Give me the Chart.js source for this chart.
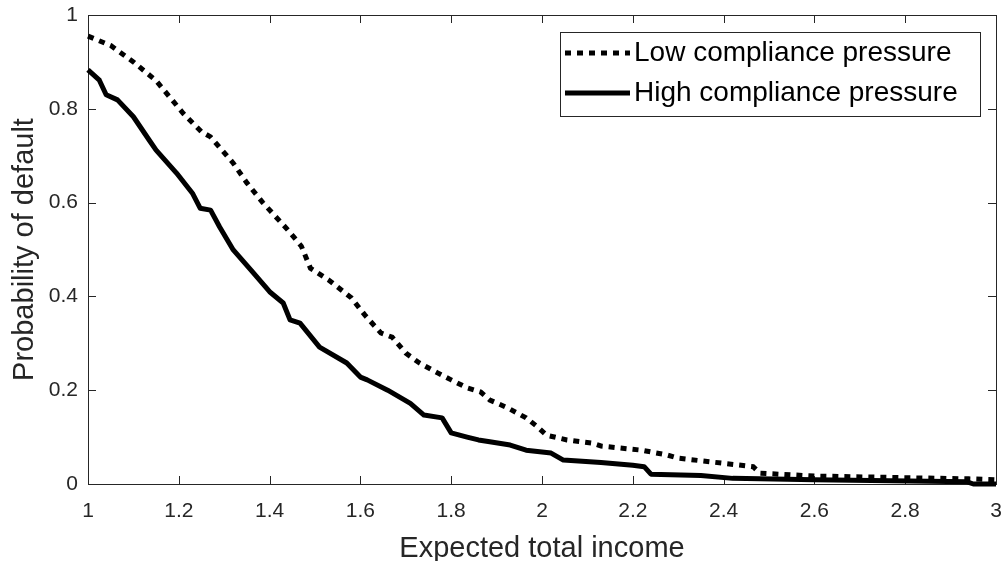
<!DOCTYPE html>
<html>
<head>
<meta charset="utf-8">
<script src="https://cdn.jsdelivr.net/npm/chart.js@4.4.1/dist/chart.umd.min.js"></script>
<style>
  html, body { margin: 0; padding: 0; background: #fff; }
  #wrap { width: 1007px; height: 561px; }
</style>
</head>
<body>
<div id="wrap"><canvas id="pdChart" width="1007" height="561"></canvas></div>
<script>
// probability of default vs expected total income
const lowX = [1.00, 1.05, 1.10, 1.15, 1.21, 1.25, 1.27, 1.32, 1.35, 1.385, 1.44, 1.47, 1.49, 1.53, 1.58, 1.61, 1.645, 1.67, 1.70, 1.73, 1.77, 1.80, 1.835, 1.865, 1.885, 1.925, 1.965, 1.99, 2.01, 2.055, 2.11, 2.13, 2.22, 2.275, 2.30, 2.465, 2.48, 2.60, 2.94, 3.00];
const lowY = [0.955, 0.935, 0.90, 0.86, 0.79, 0.751, 0.74, 0.684, 0.642, 0.60, 0.542, 0.507, 0.46, 0.435, 0.397, 0.36, 0.322, 0.313, 0.279, 0.258, 0.237, 0.222, 0.205, 0.196, 0.179, 0.162, 0.141, 0.122, 0.104, 0.094, 0.087, 0.081, 0.072, 0.062, 0.055, 0.037, 0.023, 0.017, 0.011, 0.009];

const highX = [1.00, 1.025, 1.04, 1.065, 1.10, 1.135, 1.15, 1.195, 1.23, 1.247, 1.27, 1.29, 1.32, 1.36, 1.40, 1.43, 1.445, 1.467, 1.51, 1.57, 1.60, 1.615, 1.66, 1.71, 1.74, 1.78, 1.80, 1.835, 1.86, 1.885, 1.93, 1.965, 2.02, 2.047, 2.13, 2.20, 2.225, 2.24, 2.35, 2.42, 2.60, 2.935, 2.95, 3.00];
const highY = [0.883, 0.861, 0.83, 0.819, 0.783, 0.733, 0.712, 0.663, 0.62, 0.588, 0.584, 0.548, 0.499, 0.455, 0.41, 0.386, 0.35, 0.343, 0.292, 0.258, 0.228, 0.222, 0.20, 0.172, 0.147, 0.141, 0.109, 0.10, 0.094, 0.09, 0.083, 0.072, 0.066, 0.051, 0.046, 0.040, 0.037, 0.021, 0.018, 0.012, 0.009, 0.005, 0.0, 0.0];

const xTicks = [1, 1.2, 1.4, 1.6, 1.8, 2, 2.2, 2.4, 2.6, 2.8, 3];
const yTicks = [0, 0.2, 0.4, 0.6, 0.8, 1];

const seriesNames = ['Low compliance pressure', 'High compliance pressure'];

const axisColor = '#262626';
const font = 'Arial, "Liberation Sans", Helvetica, sans-serif';

function toPoints(xs, ys) {
  return xs.map((x, i) => ({ x: x, y: ys[i] }));
}

// box around the axes with inward tick marks (matlab style)
const axesBox = {
  id: 'axesBox',
  beforeDatasetsDraw(chart) {
    const { ctx, chartArea: a, scales } = chart;
    const len = 8;
    ctx.save();
    ctx.strokeStyle = axisColor;
    ctx.lineWidth = 1;
    ctx.strokeRect(a.left + 0.5, a.top + 0.5, a.right - a.left, a.bottom - a.top);
    ctx.beginPath();
    xTicks.forEach(v => {
      const px = Math.round(scales.x.getPixelForValue(v)) + 0.5;
      ctx.moveTo(px, a.bottom); ctx.lineTo(px, a.bottom - len);
      ctx.moveTo(px, a.top); ctx.lineTo(px, a.top + len);
    });
    yTicks.forEach(v => {
      const py = Math.round(scales.y.getPixelForValue(v)) + 0.5;
      ctx.moveTo(a.left, py); ctx.lineTo(a.left + len, py);
      ctx.moveTo(a.right, py); ctx.lineTo(a.right - len, py);
    });
    ctx.stroke();
    ctx.restore();
  },
  afterDatasetsDraw(chart) {
    // legend box in the upper right corner
    const { ctx } = chart;
    const bx = 560, by = 32, bw = 420, bh = 84;
    ctx.save();
    ctx.fillStyle = '#fff';
    ctx.fillRect(bx, by, bw, bh);
    ctx.strokeStyle = axisColor;
    ctx.lineWidth = 1;
    ctx.strokeRect(bx + 0.5, by + 0.5, bw, bh);
    const rows = [53, 93];
    chart.data.datasets.forEach((ds, i) => {
      const y = rows[i];
      ctx.beginPath();
      ctx.strokeStyle = ds.borderColor;
      ctx.lineWidth = ds.borderWidth;
      ctx.setLineDash(ds.borderDash || []);
      ctx.moveTo(565, y);
      ctx.lineTo(630, y);
      ctx.stroke();
      ctx.setLineDash([]);
      ctx.fillStyle = '#000';
      ctx.font = '28px ' + font;
      ctx.textBaseline = 'middle';
      ctx.textAlign = 'left';
      ctx.fillText(ds.label, 634, y);
    });
    ctx.restore();
  }
};

const ctx = document.getElementById('pdChart').getContext('2d');

const pdChart = new Chart(ctx, {
  type: 'line',
  data: {
    datasets: [{
      label: seriesNames[0],
      data: toPoints(lowX, lowY),
      borderColor: '#000',
      borderWidth: 5,
      borderDash: [6, 6],
      borderCapStyle: 'butt',
      pointRadius: 0,
      tension: 0,
      clip: 4
    }, {
      label: seriesNames[1],
      data: toPoints(highX, highY),
      borderColor: '#000',
      borderWidth: 5,
      borderJoinStyle: 'round',
      pointRadius: 0,
      tension: 0,
      clip: 4
    }]
  },
  options: {
    responsive: false,
    animation: false,
    layout: { padding: { left: 0, right: 11, top: 15, bottom: 0 } },
    plugins: {
      legend: { display: false },
      tooltip: { enabled: false }
    },
    scales: {
      x: {
        type: 'linear',
        min: 1,
        max: 3,
        afterBuildTicks: s => { s.ticks = xTicks.map(v => ({ value: v })); },
        afterFit: s => { s.height = 77; s.paddingLeft = 0; s.paddingRight = 0; },
        grid: { display: false, drawTicks: false },
        border: { display: false },
        ticks: {
          color: axisColor,
          font: { family: font, size: 21 },
          padding: 15,
          maxRotation: 0,
          callback: v => String(+v.toFixed(1))
        },
        title: {
          display: true,
          text: 'Expected total income',
          color: axisColor,
          font: { family: font, size: 29, lineHeight: 1 },
          padding: { top: 0, bottom: -2 }
        }
      },
      y: {
        min: 0,
        max: 1,
        afterBuildTicks: s => { s.ticks = yTicks.map(v => ({ value: v })); },
        afterFit: s => { s.width = 88; s.paddingTop = 0; s.paddingBottom = 0; },
        grid: { display: false, drawTicks: false },
        border: { display: false },
        ticks: {
          color: axisColor,
          font: { family: font, size: 21 },
          padding: 10,
          callback: v => String(+v.toFixed(1))
        },
        title: {
          display: true,
          text: 'Probability of default',
          color: axisColor,
          font: { family: font, size: 29, lineHeight: 1 },
          padding: { top: 10, bottom: 0 }
        }
      }
    }
  },
  plugins: [axesBox]
});
</script>
</body>
</html>
